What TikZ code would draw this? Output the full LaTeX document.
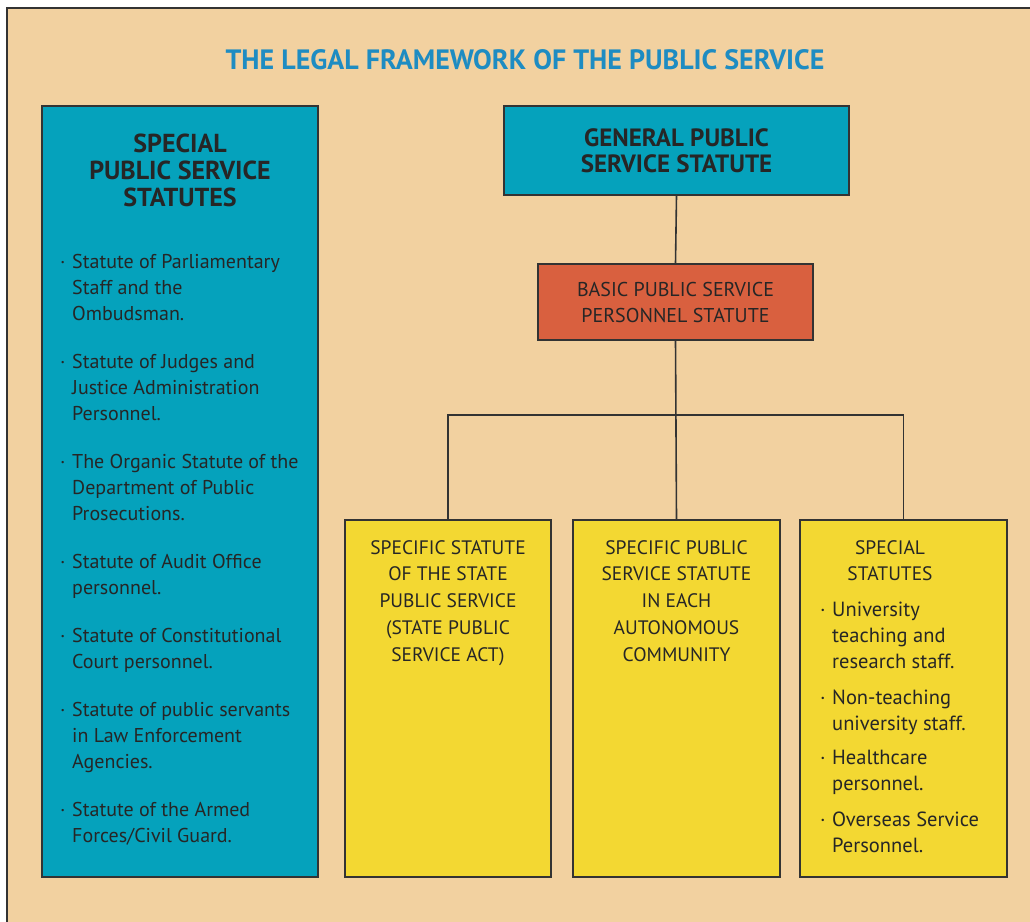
\documentclass[tikz,border=0pt]{standalone}
\usepackage{fontspec}
\setmainfont{PT Sans}
\usetikzlibrary{calc}
\definecolor{bgc}{HTML}{F2D1A0}
\definecolor{teal}{HTML}{05A2BC}
\definecolor{titleblue}{HTML}{1E8CC2}
\definecolor{redbox}{HTML}{D9603F}
\definecolor{yel}{HTML}{F3D832}
\definecolor{edge}{HTML}{333333}
\definecolor{ink}{HTML}{262626}
\newcommand{\bul}{\makebox[12pt][l]{·}}
\begin{document}
\begin{tikzpicture}[x=1pt,y=-1pt,
  box/.style={draw=edge,line width=1.6pt,inner sep=0pt,rectangle},
  conn/.style={draw=edge,line width=1.6pt},
  txt/.style={inner sep=0pt,text=ink,align=center}]
\useasboundingbox (0,0) rectangle (1030,921);
\clip (0,0) rectangle (1030,921);
\fill[white] (0,0) rectangle (1030,921);
\draw[fill=bgc,draw=edge,line width=1.5pt] (7,8) rectangle (1045,935);
\node[txt,text=titleblue,font=\fontsize{28}{30}\selectfont\bfseries] (title) at (525,60) {THE LEGAL FRAMEWORK OF THE PUBLIC SERVICE};
% boxes
\node[box,fill=teal,minimum width=276pt,minimum height=771pt] (left) at (180,491.5) {};
\node[box,fill=teal,minimum width=345pt,minimum height=89pt] (gen) at (676.5,150.5) {};
\node[box,fill=redbox,minimum width=275pt,minimum height=76pt] (basic) at (675.5,302) {};
\node[box,fill=yel,minimum width=206pt,minimum height=357pt] (y1) at (448,698.5) {};
\node[box,fill=yel,minimum width=207pt,minimum height=357pt] (y2) at (676.5,698.5) {};
\node[box,fill=yel,minimum width=207pt,minimum height=357pt] (y3) at (903.5,698.5) {};
\coordinate (bus) at (676,415);
% connectors
\draw[conn] (gen.south) -- (basic.north);
\draw[conn] (basic.south) -- (y2.north);
\draw[conn] (y1.north) |- (bus) -| (y3.north);
% texts
\node[txt,font=\fontsize{26}{27}\selectfont\bfseries] (lefthead) at (180,170) {SPECIAL\\PUBLIC SERVICE\\STATUTES};
\node[txt,anchor=north west,align=left,font=\fontsize{20}{26}\selectfont] (leftlist) at (60,250) {%
\begin{tabular}{@{}l@{}l@{}}
\bul & Statute of Parliamentary\\
 & Staff and the\\
 & Ombudsman.\\[22pt]
\bul & Statute of Judges and\\
 & Justice Administration\\
 & Personnel.\\[22pt]
\bul & The Organic Statute of the\\
 & Department of Public\\
 & Prosecutions.\\[22pt]
\bul & Statute of Audit Office\\
 & personnel.\\[22pt]
\bul & Statute of Constitutional\\
 & Court personnel.\\[22pt]
\bul & Statute of public servants\\
 & in Law Enforcement\\
 & Agencies.\\[22pt]
\bul & Statute of the Armed\\
 & Forces/Civil Guard.
\end{tabular}};
\node[txt,font=\fontsize{25}{26}\selectfont\bfseries] (gentext) at (gen.center) {GENERAL PUBLIC\\SERVICE STATUTE};
\node[txt,font=\fontsize{20}{26}\selectfont] (basictext) at (basic.center) {BASIC PUBLIC SERVICE\\PERSONNEL STATUTE};
\node[txt,anchor=north,font=\fontsize{19.5}{26.8}\selectfont] (y1text) at (448,540) {SPECIFIC STATUTE\\OF THE STATE\\PUBLIC SERVICE\\(STATE PUBLIC\\SERVICE ACT)};
\node[txt,anchor=north,font=\fontsize{19.5}{26.8}\selectfont] (y2text) at (676.5,540) {SPECIFIC PUBLIC\\SERVICE STATUTE\\IN EACH\\AUTONOMOUS\\COMMUNITY};
\node[txt,anchor=north,font=\fontsize{19.5}{26.8}\selectfont] (y3head) at (890,540) {SPECIAL\\STATUTES};
\node[txt,anchor=north west,align=left,font=\fontsize{20.5}{26}\selectfont] (y3list) at (820,598) {%
\begin{tabular}{@{}l@{}l@{}}
\bul & University\\
 & teaching and\\
 & research staff.\\[10pt]
\bul & Non-teaching\\
 & university staff.\\[8pt]
\bul & Healthcare\\
 & personnel.\\[10pt]
\bul & Overseas Service\\
 & Personnel.
\end{tabular}};
\end{tikzpicture}
\end{document}
